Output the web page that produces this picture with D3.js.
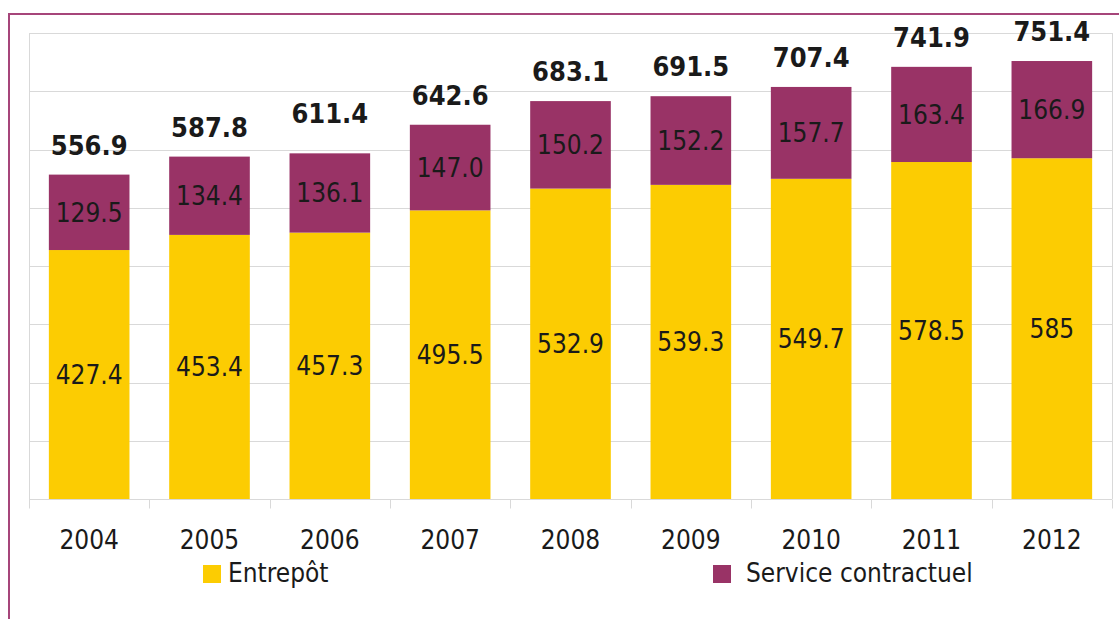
<!DOCTYPE html>
<html>
<head>
<meta charset="utf-8">
<script src="https://cdn.jsdelivr.net/npm/d3@7"></script>
<style>
  body { margin: 0; background: #fff; }
  svg text { font-family: "DejaVu Sans Condensed", "DejaVu Sans", sans-serif; fill: #1a1a1a; }
</style>
</head>
<body>
<div id="chart"></div>
<script>
// data
var years = ["2004", "2005", "2006", "2007", "2008", "2009", "2010", "2011", "2012"];
var entrepot = [427.4, 453.4, 457.3, 495.5, 532.9, 539.3, 549.7, 578.5, 585];
var service = [129.5, 134.4, 136.1, 147.0, 150.2, 152.2, 157.7, 163.4, 166.9];
var totals = [556.9, 587.8, 611.4, 642.6, 683.1, 691.5, 707.4, 741.9, 751.4];
var seriesNames = ["Entrepôt", "Service contractuel"];
var colors = ["#fccc02", "#993366"];

var W = 1119, H = 619;
var plot = { left: 29, right: 1112, top: 33, bottom: 499 };

var svg = d3.select("#chart").append("svg")
  .attr("width", W)
  .attr("height", H);

// outer frame
svg.append("path")
  .attr("d", "M9," + (H + 5) + " V14 H" + (W + 5))
  .attr("fill", "none")
  .attr("stroke", "#a6457a")
  .attr("stroke-width", 2);

var x = d3.scaleBand()
  .domain(years)
  .range([plot.left, plot.right])
  .paddingInner(0.33)
  .paddingOuter(0.165);

var y = d3.scaleLinear()
  .domain([0, 800])
  .range([plot.bottom, plot.top]);

// grid lines
svg.append("g")
  .selectAll("line")
  .data(y.ticks(8))
  .enter().append("line")
  .attr("x1", plot.left)
  .attr("x2", plot.right)
  .attr("y1", function (d) { return Math.round(y(d)) + 0.5; })
  .attr("y2", function (d) { return Math.round(y(d)) + 0.5; })
  .attr("stroke", "#d9d9d9");

// plot area sides
svg.append("g").selectAll("line")
  .data([plot.left, plot.right])
  .enter().append("line")
  .attr("x1", function (d) { return d + 0.5; })
  .attr("x2", function (d) { return d + 0.5; })
  .attr("y1", plot.top)
  .attr("y2", plot.bottom)
  .attr("stroke", "#d9d9d9");

// stacked data
var rows = years.map(function (yr, i) {
  return { year: yr, e: entrepot[i], s: service[i], total: totals[i] };
});
var stack = d3.stack().keys(["e", "s"])(rows);

var layers = svg.append("g").selectAll("g")
  .data(stack)
  .enter().append("g")
  .attr("fill", function (d, i) { return colors[i]; });

layers.selectAll("rect")
  .data(function (d) { return d; })
  .enter().append("rect")
  .attr("x", function (d) { return x(d.data.year); })
  .attr("width", x.bandwidth())
  .attr("y", function (d) { return y(d[1]); })
  .attr("height", function (d) { return y(d[0]) - y(d[1]); });

// segment labels
layers.selectAll("text")
  .data(function (d) { return d; })
  .enter().append("text")
  .attr("x", function (d) { return x(d.data.year) + x.bandwidth() / 2; })
  .attr("y", function (d) { return (y(d[0]) + y(d[1])) / 2; })
  .attr("dy", "0.36em")
  .attr("text-anchor", "middle")
  .style("font-size", "26px")
  .text(function (d) {
    var v = d[0] === 0 ? d.data.e : d.data.s;
    return v === 585 ? "585" : v.toFixed(1);
  });

// totals on top
svg.append("g").selectAll("text")
  .data(rows)
  .enter().append("text")
  .attr("x", function (d) { return x(d.year) + x.bandwidth() / 2; })
  .attr("y", function (d) { return y(d.total) - 20; })
  .attr("text-anchor", "middle")
  .style("font-size", "27px")
  .style("font-weight", "bold")
  .text(function (d) { return d.total.toFixed(1); });

// x axis
var xAxis = svg.append("g")
  .attr("transform", "translate(0," + (plot.bottom + 0.5) + ")");
xAxis.append("line")
  .attr("x1", plot.left).attr("x2", plot.right)
  .attr("stroke", "#d9d9d9");
xAxis.selectAll(".tk")
  .data(d3.range(years.length + 1))
  .enter().append("line")
  .attr("class", "tk")
  .attr("x1", function (i) { return Math.round(plot.left + i * x.step()) + 0.5; })
  .attr("x2", function (i) { return Math.round(plot.left + i * x.step()) + 0.5; })
  .attr("y1", 0).attr("y2", 9)
  .attr("stroke", "#d9d9d9");
xAxis.selectAll("text")
  .data(years)
  .enter().append("text")
  .attr("x", function (d) { return x(d) + x.bandwidth() / 2; })
  .attr("y", 49)
  .attr("text-anchor", "middle")
  .style("font-size", "26px")
  .text(function (d) { return d; });

// legend
var legendX = [203, 713];
var legendTextX = [25, 33];
var legend = svg.append("g").selectAll("g")
  .data(seriesNames)
  .enter().append("g")
  .attr("transform", function (d, i) { return "translate(" + legendX[i] + ",565)"; });
legend.append("rect")
  .attr("width", 18).attr("height", 18)
  .attr("fill", function (d, i) { return colors[i]; });
legend.append("text")
  .attr("x", function (d, i) { return legendTextX[i]; })
  .attr("y", 17)
  .style("font-size", "26px")
  .text(function (d) { return d; });
</script>
</body>
</html>
